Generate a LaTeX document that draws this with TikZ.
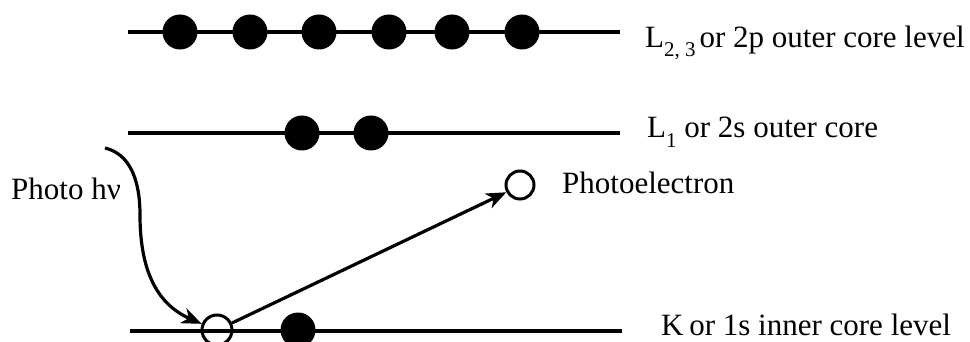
\documentclass[tikz,border=0pt]{standalone}
\usepackage{fontspec}
\setmainfont{Liberation Serif}
\usetikzlibrary{arrows.meta}
\begin{document}
\begin{tikzpicture}[x=1pt,y=-1pt,
  level/.style={line width=3.5pt},
  elec/.style={circle,fill=black,minimum size=35pt,inner sep=0pt},
  hole/.style={circle,draw=black,line width=3pt,minimum size=30pt,inner sep=0pt},
  arr/.style={line width=3.2pt,-{Stealth[length=20pt,width=16pt,inset=6pt]}},
  lbl/.style={anchor=base west,inner sep=0pt,font=\fontsize{31}{36}\selectfont}]
\useasboundingbox (0,0) rectangle (970,342);
% levels
\coordinate (t1) at (128,32); \coordinate (t2) at (620,32);
\coordinate (m1) at (128,133); \coordinate (m2) at (620,133);
\coordinate (b1) at (130,331); \coordinate (b2) at (622,331);
\draw[level] (t1) -- (t2);
\draw[level] (m1) -- (m2);
\draw[level] (b1) -- (b2);
% electrons
\foreach \x [count=\i] in {180,250,319,389,452,522}
  \node[elec] (e\i) at (\x,32) {};
\node[elec] (s1) at (302,133) {};
\node[elec] (s2) at (371,133) {};
\node[hole] (h) at (217,330) {};
\node[elec] (k) at (298,330) {};
\node[hole,minimum size=28pt] (pe) at (520,185) {};
% labels
\node[lbl] (l23) at (645,48) {L\raisebox{-9pt}{\fontsize{21}{21}\selectfont 2, 3}\kern4pt or 2p outer core level};
\node[lbl] (l1) at (647,138) {L\raisebox{-10pt}{\fontsize{21}{21}\selectfont 1} or 2s outer core};
\node[lbl] (pl) at (562,194) {Photoelectron};
\node[lbl] (kl) at (661,335) {K\kern-2pt\ or 1s inner core level};
\node[lbl] (ph) at (11,200) {Photo hν};
% arrows
\coordinate (cs) at (105,148);
\draw[arr] (cs) .. controls (130,154) and (140,180) .. (140,215)
  .. controls (140,262) and (152,302) .. (h.158);
\draw[arr] (h.25) -- (pe.208);
\end{tikzpicture}
\end{document}
